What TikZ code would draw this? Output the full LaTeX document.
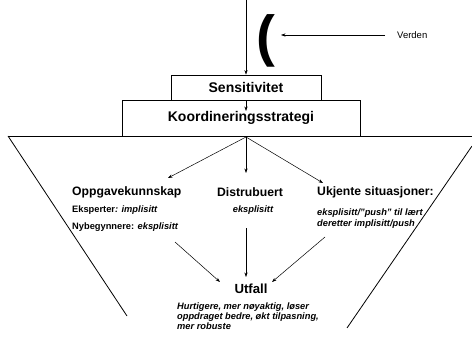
\documentclass[tikz,border=0pt]{standalone}
\usepackage{fontspec}
\setmainfont{Liberation Sans}
\usetikzlibrary{arrows.meta}
\begin{document}
\begin{tikzpicture}[x=1pt,y=-1pt,
  arr/.style={line width=0.5pt,-{Stealth[length=4.5pt,width=3.2pt]}},
  boxa/.style={draw,line width=0.9pt,inner sep=0pt,font=\fontsize{14}{16}\selectfont\bfseries},
  head/.style={inner sep=0pt,font=\fontsize{12.2}{14}\selectfont\bfseries},
  small/.style={inner sep=0pt,align=left,font=\fontsize{9.3}{11}\selectfont\bfseries\itshape},
  edge/.style={line width=0.8pt}]
\useasboundingbox (0,0) rectangle (472,337);
% trapezoid
\draw[edge] (8,136) -- (472,136);
\draw[edge] (8,136) -- (127,316);
\draw[edge] (472,146) -- (347,328);
% boxes
\node[boxa,minimum width=238pt,minimum height=36pt] (koord) at (241,118) {Koordineringsstrategi};
\node[boxa,minimum width=150pt,minimum height=25pt,fill=white] (sens) at (246,87.5) {Sensitivitet};
% top
\coordinate (top) at (246,0);
\draw[arr] (top) -- (top |- sens.north);
\coordinate (kin) at (246,111);
\draw[arr] (top |- sens.south) -- (kin);
% parenthesis and Verden
\node[inner sep=0pt,anchor=base west,font=\fontsize{56.5}{56}\selectfont\bfseries] (paren) at (256,56) {(};
\node[inner sep=0pt,anchor=west,font=\fontsize{9.5}{11}\selectfont] (verden) at (397,35) {Verden};
\coordinate (vtip) at (281,35);
\draw[arr] ([xshift=-12pt]verden.west) -- (vtip);
% columns
\node[head,anchor=west] (oppg) at (72,192) {Oppgavekunnskap};
\node[small,anchor=west] (eksp) at (72,210) {\upshape Eksperter\itshape: implisitt};
\node[small,anchor=west] (nyb) at (72,227) {\upshape Nybegynnere: \itshape eksplisitt};
\node[head] (dist) at (250,192) {Distrubuert};
\node[small] (distx) at (253,210) {eksplisitt};
\node[head,anchor=west] (ukj) at (317,192) {Ukjente situasjoner:};
\node[small,anchor=north west] (ukjx) at (317,208.5) {eksplisitt/"push" til lært\\deretter implisitt/push};
% arrows from koord
\coordinate (kb) at (246,137);
\draw[arr] (kb) -- (168,178);
\draw[arr] (kb) -- (246,173);
\draw[arr] (kb) -- (323,183);
% Utfall
\node[inner sep=0pt,font=\fontsize{13.2}{15}\selectfont\bfseries] (utfall) at (251,288.5) {Utfall};
\node[small,anchor=north west,font=\fontsize{9.3}{10.2}\selectfont\bfseries\itshape] (utfx) at (177,302.5) {Hurtigere, mer nøyaktig, løser\\oppdraget bedre, økt tilpasning,\\mer robuste};
\coordinate (a1) at (175,242);
\coordinate (a2) at (246,228);
\coordinate (a3) at (325,237);
\draw[arr] (a1) -- (220,282);
\draw[arr] (a2) -- (246,277);
\draw[arr] (a3) -- (272,282);
\end{tikzpicture}
\end{document}
